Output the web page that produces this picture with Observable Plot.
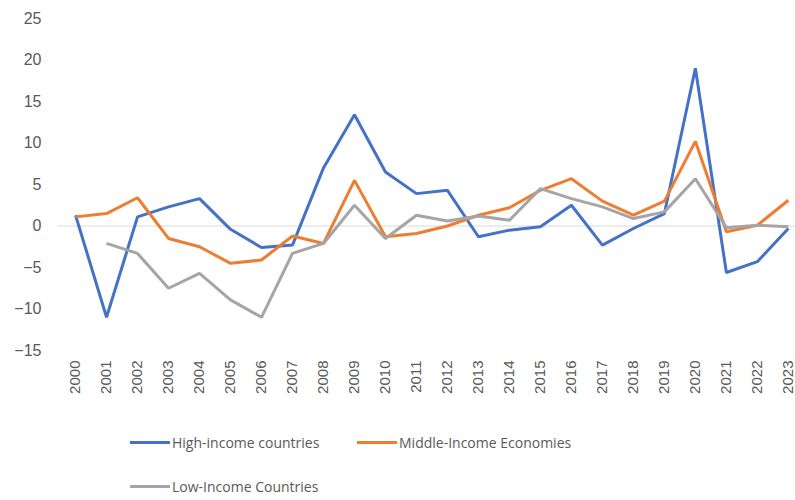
<!DOCTYPE html>
<html>
<head>
<meta charset="utf-8">
<script src="https://cdn.jsdelivr.net/npm/d3@7"></script>
<script src="https://cdn.jsdelivr.net/npm/@observablehq/plot@0.6"></script>
<style>
  body { margin: 0; background: #fff; font-family: "Open Sans", "Liberation Sans", sans-serif; }
  #chart svg { display: block; }
  .legend { position: relative; width: 795px; height: 90px; }
  .item { position: absolute; display: flex; align-items: center; font-size: 14px; color: #595959; white-space: nowrap; }
  .sw { width: 40px; height: 3px; margin-right: 2px; }
</style>
</head>
<body>
<div id="chart"></div>
<div class="legend" id="legend"></div>
<script>
const years = [2000, 2001, 2002, 2003, 2004, 2005, 2006, 2007, 2008, 2009, 2010, 2011,
               2012, 2013, 2014, 2015, 2016, 2017, 2018, 2019, 2020, 2021, 2022, 2023];
const seriesNames = ["High-income countries", "Middle-Income Economies", "Low-Income Countries"];
const seriesColors = ["#4472C4", "#ED7D31", "#A5A5A5"];
const highIncome   = [1.3, -11.0, 1.1, 2.3, 3.3, -0.4, -2.6, -2.3, 7.0, 13.4, 6.5, 3.9,
                      4.3, -1.3, -0.5, -0.1, 2.5, -2.3, -0.3, 1.5, 19.0, -5.6, -4.3, -0.3];
const middleIncome = [1.1, 1.5, 3.4, -1.5, -2.5, -4.5, -4.1, -1.2, -2.1, 5.5, -1.3, -0.9,
                      0.0, 1.3, 2.2, 4.3, 5.7, 3.0, 1.3, 3.0, 10.2, -0.7, 0.1, 3.1];
const lowIncome    = [null, -2.1, -3.3, -7.5, -5.7, -8.9, -11.0, -3.3, -2.1, 2.5, -1.5, 1.3,
                      0.6, 1.2, 0.7, 4.5, 3.3, 2.3, 0.9, 1.7, 5.7, -0.2, 0.1, -0.1];
const yTicks = [-15, -10, -5, 0, 5, 10, 15, 20, 25];

const seriesValues = [highIncome, middleIncome, lowIncome];
const data = [];
seriesNames.forEach((name, i) => {
  years.forEach((yr, j) => data.push({series: name, year: yr, value: seriesValues[i][j]}));
});

const chart = Plot.plot({
  width: 795,
  height: 410,
  marginLeft: 58,
  marginRight: 0,
  marginTop: 18,
  marginBottom: 60,
  style: {fontFamily: "'Liberation Sans', Arial, sans-serif", fontSize: "15px", color: "#595959"},
  x: {type: "linear", domain: [1999.45, 2023.23], ticks: years, tickFormat: d => String(d),
      tickRotate: -90, tickSize: 0, tickPadding: 10, label: null},
  y: {domain: [-15, 25], ticks: yTicks, tickSize: 0, tickPadding: 17, label: null},
  color: {domain: seriesNames, range: seriesColors},
  marks: [
    Plot.ruleY([0], {stroke: "#d9d9d9", strokeWidth: 1}),
    Plot.line(data, {x: "year", y: "value", z: "series", stroke: "series", strokeWidth: 3,
                     strokeLinejoin: "miter", strokeLinecap: "butt"})
  ]
});
chart.querySelectorAll("[aria-label='y-axis tick label'] text").forEach(t => t.style.fontSize = "16px");
document.getElementById("chart").appendChild(chart);

const legend = document.getElementById("legend");
const pos = [[130, 33], [357, 33], [130, 77]];
seriesNames.forEach((name, i) => {
  const it = document.createElement("div");
  it.className = "item";
  it.style.left = pos[i][0] + "px";
  it.style.top = (pos[i][1] - 10) + "px";
  it.innerHTML = `<span class="sw" style="background:${seriesColors[i]}"></span><span>${name}</span>`;
  legend.appendChild(it);
});
</script>
</body>
</html>
